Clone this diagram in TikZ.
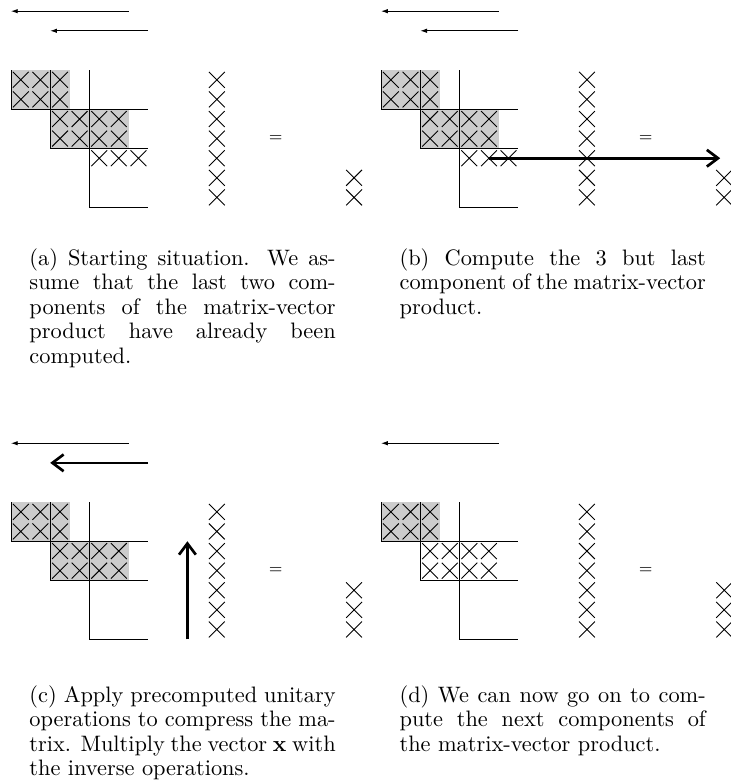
\documentclass[tikz,border=0pt]{standalone}
\usetikzlibrary{arrows.meta,shapes.misc}
\definecolor{cellgray}{gray}{0.8}

\begin{document}
\begin{tikzpicture}[x=8.77pt,y=8.77pt,
  elem/.style={draw,cross out,minimum size=6.7pt,inner sep=0pt},
  rot/.style={-{Latex[length=3pt,width=2pt]}},
  bigrot/.style={line width=1.2pt,-{Straight Barb[length=5pt,width=7.5pt]}},
  capt/.style={anchor=base west,inner sep=0pt,text width=137pt,align=justify,
    font=\fontsize{10}{11}\selectfont}]
  \useasboundingbox (-0.561,3.571) rectangle (36.68,-36.27);

  % (a) starting situation
  \begin{scope}
    \draw[rot] (6,3) -- (0,3);
    \draw[rot] (7,2) -- (2,2);
    \fill[cellgray] (0,0) rectangle (3,-2);
    \fill[cellgray] (2,-2) rectangle (6,-4);
    \draw (0,0) -- (0,-2) -- (7,-2);
    \draw (2,0) -- (2,-4) -- (7,-4);
    \draw (4,0) -- (4,-7) -- (7,-7);
    \foreach \r in {0,1} \foreach \c in {0,1,2}
      \node[elem] (a-\r-\c) at (\c+.5,-\r-.5) {};
    \foreach \r in {2,3} \foreach \c in {2,...,5}
      \node[elem] (a-\r-\c) at (\c+.5,-\r-.5) {};
    \foreach \c in {4,5,6}
      \node[elem] (a-4-\c) at (\c+.5,-4.5) {};
    \foreach \r in {0,...,6}
      \node[elem] (ax-\r) at (10.5,-\r-.5) {};
    \node (aeq) at (13.5,-3.5) {\scriptsize$=$};
    \foreach \r in {5,6}
      \node[elem] (ay-\r) at (17.5,-\r-.5) {};
    \node[capt] (acap) at (0.92,-9.95) {(a) Starting situation. We
      as-\linebreak sume that the last two com-\linebreak ponents of the
      matrix-vector\linebreak product have already been\linebreak computed.};
  \end{scope}

  % (b) next component
  \begin{scope}[shift={(18.88,0)}]
    \draw[rot] (6,3) -- (0,3);
    \draw[rot] (7,2) -- (2,2);
    \fill[cellgray] (0,0) rectangle (3,-2);
    \fill[cellgray] (2,-2) rectangle (6,-4);
    \draw (0,0) -- (0,-2) -- (7,-2);
    \draw (2,0) -- (2,-4) -- (7,-4);
    \draw (4,0) -- (4,-7) -- (7,-7);
    \foreach \r in {0,1} \foreach \c in {0,1,2}
      \node[elem] (b-\r-\c) at (\c+.5,-\r-.5) {};
    \foreach \r in {2,3} \foreach \c in {2,...,5}
      \node[elem] (b-\r-\c) at (\c+.5,-\r-.5) {};
    \foreach \c in {4,5,6}
      \node[elem] (b-4-\c) at (\c+.5,-4.5) {};
    \foreach \r in {0,...,6}
      \node[elem] (bx-\r) at (10.5,-\r-.5) {};
    \node (beq) at (13.5,-3.5) {\scriptsize$=$};
    \foreach \r in {5,6}
      \node[elem] (by-\r) at (17.5,-\r-.5) {};
    \coordinate (bend) at (17.3,-4.5);
    \draw[bigrot] (b-4-5.center) -- (bend);
    \node[capt] (bcap) at (0.92,-9.95) {(b) Compute the 3 but
      last\linebreak component of the matrix-vector\linebreak product.};
  \end{scope}

  % (c) compress the matrix
  \begin{scope}[shift={(0,-22.04)}]
    \draw[rot] (6,3) -- (0,3);
    \draw[bigrot] (7,2) -- (2,2);
    \fill[cellgray] (0,0) rectangle (3,-2);
    \fill[cellgray] (2,-2) rectangle (6,-4);
    \draw (0,0) -- (0,-2) -- (7,-2);
    \draw (2,0) -- (2,-4) -- (7,-4);
    \draw (4,0) -- (4,-7) -- (7,-7);
    \foreach \r in {0,1} \foreach \c in {0,1,2}
      \node[elem] (c-\r-\c) at (\c+.5,-\r-.5) {};
    \foreach \r in {2,3} \foreach \c in {2,...,5}
      \node[elem] (c-\r-\c) at (\c+.5,-\r-.5) {};
    \draw[bigrot] (9,-7) -- (9,-2);
    \foreach \r in {0,...,6}
      \node[elem] (cx-\r) at (10.5,-\r-.5) {};
    \node (ceq) at (13.5,-3.5) {\scriptsize$=$};
    \foreach \r in {4,5,6}
      \node[elem] (cy-\r) at (17.5,-\r-.5) {};
    \node[capt] (ccap) at (0.92,-10.2) {(c) Apply precomputed
      unitary\linebreak operations to compress the ma-\linebreak trix.
      Multiply the vector $\mathbf{x}$ with\linebreak the inverse operations.};
  \end{scope}

  % (d) go on with the next block
  \begin{scope}[shift={(18.88,-22.04)}]
    \draw[rot] (6,3) -- (0,3);
    \fill[cellgray] (0,0) rectangle (3,-2);
    \draw (0,0) -- (0,-2) -- (7,-2);
    \draw (2,0) -- (2,-4) -- (7,-4);
    \draw (4,0) -- (4,-7) -- (7,-7);
    \foreach \r in {0,1} \foreach \c in {0,1,2}
      \node[elem] (d-\r-\c) at (\c+.5,-\r-.5) {};
    \foreach \r in {2,3} \foreach \c in {2,...,5}
      \node[elem] (d-\r-\c) at (\c+.5,-\r-.5) {};
    \foreach \r in {0,...,6}
      \node[elem] (dx-\r) at (10.5,-\r-.5) {};
    \node (deq) at (13.5,-3.5) {\scriptsize$=$};
    \foreach \r in {4,5,6}
      \node[elem] (dy-\r) at (17.5,-\r-.5) {};
    \node[capt] (dcap) at (0.92,-10.2) {(d) We can now go on to
      com-\linebreak pute the next components of\linebreak the
      matrix-vector product.};
  \end{scope}
\end{tikzpicture}
\end{document}
